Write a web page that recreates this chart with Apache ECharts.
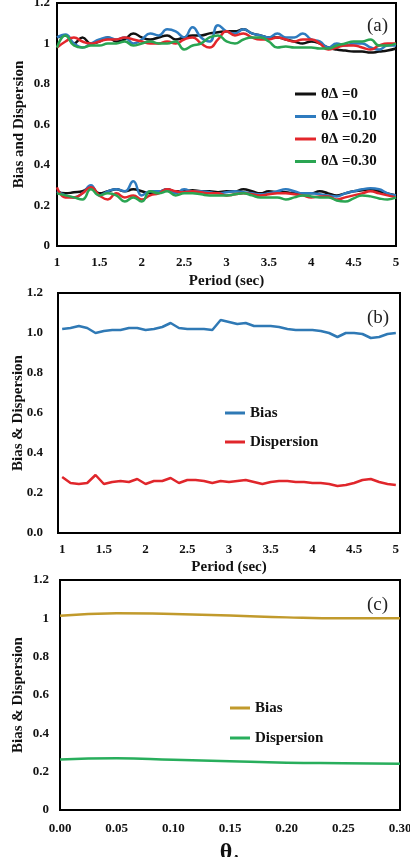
<!DOCTYPE html>
<html>
<head>
<meta charset="utf-8">
<script src="https://cdn.jsdelivr.net/npm/echarts@6/dist/echarts.min.js"></script>
<style>
html,body{margin:0;padding:0;background:#fff;width:410px;height:857px;overflow:hidden;}
.c{position:absolute;left:0;width:410px;}
</style>
</head>
<body>
<div id="ca" class="c" style="top:0;height:290px;"></div>
<div id="cb" class="c" style="top:280px;height:295px;"></div>
<div id="cc" class="c" style="top:570px;height:287px;"></div>
<script>
// ---------- Panel (a) ----------
var periodA = [1.0,1.1,1.2,1.3,1.4,1.5,1.6,1.7,1.8,1.9,2.0,2.1,2.2,2.3,2.4,2.5,2.6,2.7,2.8,2.9,3.0,3.1,3.2,3.3,3.4,3.5,3.6,3.7,3.8,3.9,4.0,4.1,4.2,4.3,4.4,4.5,4.6,4.7,4.8,4.9,5.0];
var namesA = ['θΔ =0','θΔ =0.10','θΔ =0.20','θΔ =0.30'];
var biasA0  = [1.03,1.04,1.00,1.03,1.00,1.01,1.03,1.01,1.02,1.05,1.03,1.02,1.03,1.04,1.02,1.03,1.04,1.04,1.05,1.055,1.06,1.06,1.07,1.05,1.04,1.03,1.03,1.02,1.01,1.00,1.01,1.00,0.98,0.97,0.965,0.96,0.96,0.955,0.96,0.965,0.975];
var biasA10 = [1.03,1.045,1.00,0.98,1.00,1.02,1.03,1.02,1.03,1.00,1.02,1.05,1.04,1.07,1.06,1.03,1.08,1.03,1.01,1.09,1.06,1.05,1.07,1.05,1.04,1.03,1.05,1.03,1.03,1.05,1.02,1.01,0.98,1.00,0.99,1.00,1.00,0.98,0.97,0.99,0.99];
var biasA20 = [0.98,1.01,1.03,1.01,1.00,1.01,1.02,1.02,1.03,1.02,1.01,1.00,1.00,1.01,1.00,1.02,1.03,1.00,0.98,1.02,1.06,1.04,1.05,1.03,1.02,1.02,1.03,1.02,1.01,1.02,1.02,1.00,0.97,0.98,0.99,0.99,0.98,0.97,0.99,1.00,1.00];
var biasA30 = [0.98,1.04,0.99,0.98,0.99,0.99,1.00,1.00,1.01,0.99,1.00,1.01,1.00,1.00,1.01,0.97,0.99,1.00,1.03,1.04,1.01,1.00,1.02,1.03,1.03,1.01,0.98,0.985,0.98,0.98,0.98,0.975,0.975,0.99,1.00,1.01,1.01,1.02,0.99,0.99,1.00];
var dispA0  = [0.27,0.26,0.265,0.27,0.29,0.26,0.27,0.28,0.27,0.28,0.27,0.26,0.265,0.28,0.27,0.27,0.275,0.27,0.27,0.265,0.27,0.27,0.28,0.27,0.26,0.27,0.265,0.265,0.26,0.26,0.26,0.27,0.26,0.25,0.26,0.27,0.275,0.28,0.27,0.26,0.25];
var dispA10 = [0.27,0.25,0.24,0.26,0.30,0.25,0.27,0.28,0.27,0.32,0.25,0.27,0.27,0.28,0.26,0.28,0.27,0.27,0.265,0.26,0.265,0.27,0.265,0.26,0.255,0.26,0.27,0.28,0.27,0.26,0.26,0.255,0.25,0.245,0.26,0.27,0.28,0.285,0.28,0.26,0.25];
var dispA20 = [0.29,0.24,0.24,0.26,0.29,0.25,0.23,0.26,0.24,0.25,0.23,0.25,0.26,0.28,0.27,0.265,0.27,0.265,0.26,0.26,0.25,0.255,0.26,0.255,0.25,0.255,0.26,0.26,0.255,0.25,0.24,0.245,0.245,0.23,0.24,0.25,0.26,0.27,0.26,0.25,0.24];
var dispA30 = [0.26,0.25,0.24,0.23,0.28,0.25,0.26,0.25,0.22,0.24,0.22,0.27,0.26,0.27,0.25,0.26,0.26,0.255,0.25,0.25,0.25,0.255,0.26,0.25,0.24,0.24,0.24,0.23,0.24,0.25,0.245,0.24,0.24,0.225,0.22,0.235,0.25,0.245,0.235,0.23,0.24];

// ---------- Panel (b) ----------
var periodB = [1.0,1.1,1.2,1.3,1.4,1.5,1.6,1.7,1.8,1.9,2.0,2.1,2.2,2.3,2.4,2.5,2.6,2.7,2.8,2.9,3.0,3.1,3.2,3.3,3.4,3.5,3.6,3.7,3.8,3.9,4.0,4.1,4.2,4.3,4.4,4.5,4.6,4.7,4.8,4.9,5.0];
var biasB = [1.02,1.025,1.035,1.025,1.0,1.01,1.015,1.015,1.025,1.025,1.015,1.02,1.03,1.05,1.025,1.02,1.02,1.02,1.015,1.065,1.055,1.045,1.05,1.035,1.035,1.035,1.03,1.02,1.015,1.015,1.015,1.01,1.0,0.98,1.0,1.0,0.995,0.975,0.98,0.995,1.0];
var dispB = [0.28,0.25,0.245,0.25,0.29,0.245,0.255,0.26,0.255,0.27,0.245,0.26,0.26,0.275,0.25,0.265,0.265,0.26,0.25,0.26,0.255,0.26,0.265,0.255,0.245,0.255,0.26,0.26,0.255,0.255,0.25,0.25,0.245,0.235,0.24,0.25,0.265,0.27,0.255,0.245,0.24];
var periodTicks = [1,1.5,2,2.5,3,3.5,4,4.5,5];

// ---------- Panel (c) ----------
var thetaC = [0,0.05,0.10,0.15,0.20,0.25,0.30];
var biasC = [1.013,1.027,1.022,1.015,1.005,1.0,1.0];
var dispC = [0.263,0.27,0.262,0.254,0.247,0.244,0.241];

var FF = '"Liberation Serif","Times New Roman",serif';
function pairs(xs, ys){ return xs.map(function(x,i){ return [x, ys[i]]; }); }
function yAxisBase(gap, fmt){
  return {type:'value', min:0, max:1.2, interval:0.2,
    name:'', nameLocation:'middle', nameGap:gap, nameMoveOverlap:false,
    nameTextStyle:{fontFamily:FF, fontWeight:'bold', fontSize:15, color:'#111'},
    axisLine:{show:false}, axisTick:{show:false}, splitLine:{show:false},
    axisLabel:{fontFamily:FF, fontWeight:'bold', fontSize:13, color:'#111', margin:8, formatter:fmt}};
}
function lineS(name, data, color, smooth){
  return {type:'line', name:name, data:data, symbol:'none', smooth:smooth,
    lineStyle:{color:color, width:2.5}, itemStyle:{color:color}, animation:false};
}
var legendText = {fontFamily:FF, fontWeight:'bold', fontSize:15, lineHeight:16, color:'#111'};

// Chart A
var colA = ['#111111','#2e7bbf','#e3262b','#2aa552'];
var ya = yAxisBase(30); ya.name = 'Bias and Dispersion'; ya.axisLabel.margin = 7;
var seriesA = [];
[biasA0,biasA10,biasA20,biasA30].forEach(function(arr,i){ seriesA.push(lineS(namesA[i], pairs(periodA, arr), colA[i], 0.5)); });
[dispA0,dispA10,dispA20,dispA30].forEach(function(arr,i){ seriesA.push(lineS(namesA[i], pairs(periodA, arr), colA[i], 0.5)); });
echarts.init(document.getElementById('ca')).setOption({
  animation:false,
  title:{text:'(a)', left:362, top:12, textStyle:{fontFamily:FF, fontWeight:'normal', fontSize:19, color:'#222'}},
  grid:{left:57, top:3, width:339, height:243, show:true, borderColor:'#000', borderWidth:2, outerBoundsMode:'none', containLabel:false},
  legend:{orient:'vertical', left:290, top:81, itemWidth:21, itemHeight:3, icon:'rect', itemGap:6.5, data:namesA, textStyle:legendText},
  xAxis:{type:'value', min:1, max:5, interval:0.5, name:'Period (sec)', nameLocation:'middle', nameGap:28, nameMoveOverlap:false,
    nameTextStyle:{fontFamily:FF, fontWeight:'bold', fontSize:15, color:'#111'},
    axisLine:{show:false}, axisTick:{show:false}, splitLine:{show:false},
    axisLabel:{fontFamily:FF, fontWeight:'bold', fontSize:13, color:'#111', margin:10}},
  yAxis:ya,
  series:seriesA
});

// Chart B
var yb = yAxisBase(32, function(v){ return v.toFixed(1); }); yb.name = 'Bias & Dispersion'; yb.axisLabel.margin = 15;
echarts.init(document.getElementById('cb')).setOption({
  animation:false,
  title:{text:'(b)', left:362, top:24, textStyle:{fontFamily:FF, fontWeight:'normal', fontSize:19, color:'#222'}},
  grid:{left:58, top:13, width:342, height:240, show:true, borderColor:'#000', borderWidth:2, outerBoundsMode:'none', containLabel:false},
  legend:{orient:'vertical', left:220, top:120, itemWidth:20, itemHeight:3, icon:'rect', itemGap:13, data:['Bias','Dispersion'], textStyle:legendText},
  xAxis:{type:'value', min:0.95, max:5.05, name:'Period (sec)', nameLocation:'middle', nameGap:27, nameMoveOverlap:false,
    nameTextStyle:{fontFamily:FF, fontWeight:'bold', fontSize:15, color:'#111'},
    axisLine:{show:false}, axisTick:{show:false}, splitLine:{show:false},
    axisLabel:{fontFamily:FF, fontWeight:'bold', fontSize:13, color:'#111', margin:10, customValues:periodTicks}},
  yAxis:yb,
  series:[lineS('Bias', pairs(periodB, biasB), '#2f79b5', false), lineS('Dispersion', pairs(periodB, dispB), '#e0262b', false)]
});

// Chart C
var yc = yAxisBase(34); yc.name = 'Bias & Dispersion'; yc.axisLabel.margin = 11;
echarts.init(document.getElementById('cc')).setOption({
  animation:false,
  title:{text:'(c)', left:362, top:21, textStyle:{fontFamily:FF, fontWeight:'normal', fontSize:19, color:'#222'}},
  grid:{left:60, top:10, width:340, height:230, show:true, borderColor:'#000', borderWidth:2, outerBoundsMode:'none', containLabel:false},
  legend:{orient:'vertical', left:225, top:125, itemWidth:20, itemHeight:3, icon:'rect', itemGap:14, data:['Bias','Dispersion'], textStyle:legendText},
  xAxis:{type:'value', min:0, max:0.3, interval:0.05, name:'{t|θ}{s|Δ}', nameLocation:'middle', nameGap:29, nameMoveOverlap:false,
    nameTextStyle:{fontFamily:FF, fontWeight:'bold', color:'#111', rich:{t:{fontFamily:FF, fontWeight:'bold', fontSize:24, color:'#111'}, s:{fontFamily:FF, fontWeight:'bold', fontSize:13, color:'#111', padding:[14,0,0,0]}}},
    axisLine:{show:false}, axisTick:{show:false}, splitLine:{show:false},
    axisLabel:{fontFamily:FF, fontWeight:'bold', fontSize:13, color:'#111', margin:12, formatter:function(v){ return v.toFixed(2); }}},
  yAxis:yc,
  series:[lineS('Bias', pairs(thetaC, biasC), '#c19a2c', true), lineS('Dispersion', pairs(thetaC, dispC), '#28ae5c', true)]
});
</script>
</body>
</html>
